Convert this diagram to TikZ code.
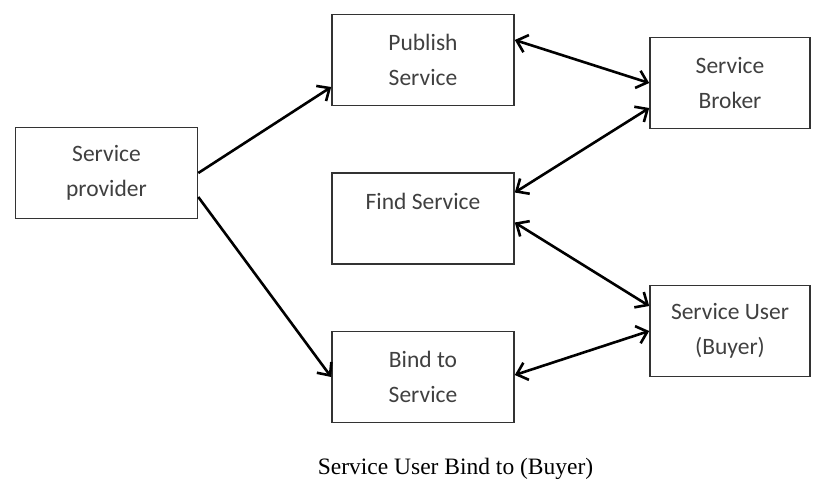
\documentclass[tikz,border=0pt]{standalone}
\usepackage{fontspec}
\setmainfont{Carlito}
\newfontfamily\capfont{Liberation Serif}
\usetikzlibrary{arrows.meta}
\begin{document}
\begin{tikzpicture}[x=1pt,y=-1pt,
  main node/.style={rectangle,draw=black!80,line width=1.6pt,fill=white,minimum width=182pt,minimum height=91pt,
    align=center,text=black!75,font=\fontsize{23.5}{35}\selectfont,inner sep=0pt},
  side node/.style={main node,minimum width=160pt},
  link/.style={line width=2.6pt,-{Straight Barb[length=10pt,width=18pt]}},
  both/.style={link,{Straight Barb[length=10pt,width=18pt]}-{Straight Barb[length=10pt,width=18pt]}}]
  \useasboundingbox (0,0) rectangle (820,496);
  \node[main node] (prov) at (106.5,173) {Service\\provider};
  \node[main node] (pub) at (423,60) {Publish\\Service};
  \node[main node] (find) at (423,218.5) {Find Service\\\mbox{}};
  \node[main node] (bind) at (423,377) {Bind to\\Service};
  \node[side node] (broker) at (730,83) {Service\\Broker};
  \node[side node] (user) at (730,331) {Service User\\(Buyer)};
  \node[font=\capfont\fontsize{23.5}{27}\selectfont] (cap) at (455.5,469) {Service User Bind to (Buyer)};

  \path[link]
   (prov.east) edge ([yshift=-27pt]pub.west)
   ([yshift=-24pt]prov.east) edge (bind.west);
  \path[both]
   ([yshift=20pt]pub.east) edge (broker.west)
   ([yshift=26pt]find.east) edge ([yshift=-25pt]broker.west)
   ([yshift=-4pt]find.east) edge ([yshift=25pt]user.west)
   ([yshift=2pt]bind.east) edge (user.west);
\end{tikzpicture}
\end{document}
